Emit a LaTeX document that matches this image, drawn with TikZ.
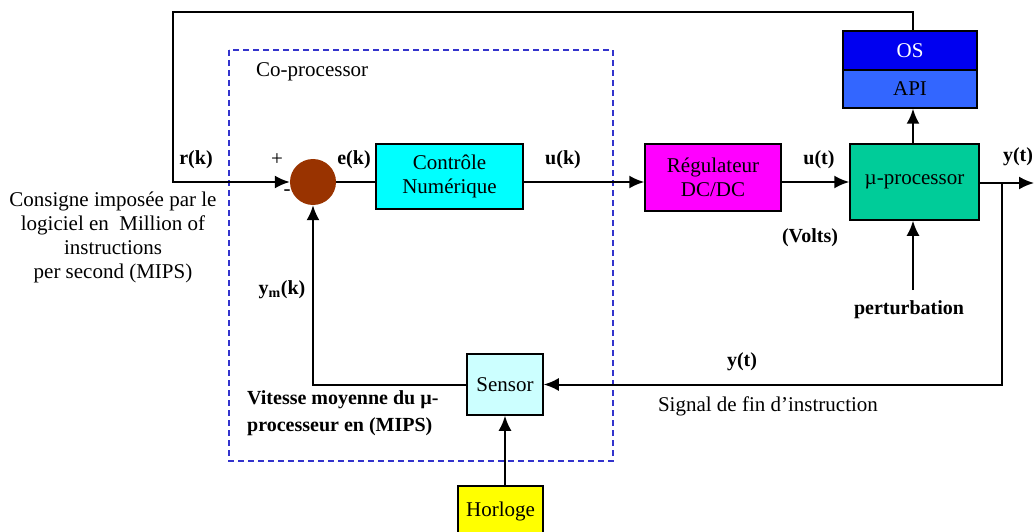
\documentclass[tikz,border=0pt]{standalone}
\usepackage{fontspec}
\setmainfont{Liberation Serif}
\usetikzlibrary{arrows.meta,positioning,calc}
\definecolor{Ink}{HTML}{000000}
\definecolor{CtrlCyan}{HTML}{00FFFF}
\definecolor{RegMagenta}{HTML}{FF00FF}
\definecolor{ProcGreen}{HTML}{00CC99}
\definecolor{OsBlue}{HTML}{0000F0}
\definecolor{ApiBlue}{HTML}{3366FF}
\definecolor{SensorSoft}{HTML}{CCFFFF}
\definecolor{ClockYellow}{HTML}{FFFF00}
\definecolor{SumBrown}{HTML}{993300}
\definecolor{CoBlue}{HTML}{3333CC}
\newcommand{\diagfont}{\fontsize{21}{24}\selectfont}
\newcommand{\sigfont}{\fontsize{20}{27}\selectfont\bfseries}
\tikzset{
  blk/.style={draw=Ink,line width=1.5pt,inner sep=0pt,align=center,text=Ink,font=\diagfont},
  blkcyan/.style={blk,fill=CtrlCyan},
  blkmag/.style={blk,fill=RegMagenta},
  blkgreen/.style={blk,fill=ProcGreen},
  blkos/.style={blk,fill=OsBlue,text=white},
  blkapi/.style={blk,fill=ApiBlue},
  blksensor/.style={blk,fill=SensorSoft},
  blkyellow/.style={blk,fill=ClockYellow},
  sumnode/.style={circle,fill=SumBrown,minimum size=46pt,inner sep=0pt},
  sig/.style={font=\sigfont,inner sep=1pt},
  txt/.style={font=\diagfont,inner sep=1pt},
  arrow/.style={-{Latex[length=15pt,width=13pt]},line width=2pt,draw=Ink},
  coproc/.style={draw=CoBlue,line width=1.6pt,dash pattern=on 6pt off 4pt}
}
\begin{document}
\begin{tikzpicture}[x=1pt,y=-1pt]
  \useasboundingbox (0,0) rectangle (1036,532);
  % co-processor frame
  \draw[coproc] (229,50) rectangle (613,461);
  \node[txt,anchor=west] (cop) at (255,72) {Co-processor};
  % blocks
  \node[sumnode] (sum) at (313,182) {};
  \node[blkcyan,minimum width=147pt,minimum height=65pt] (ctrl) at (449.5,176.5) {Contrôle\\Numérique};
  \node[blkmag,minimum width=136pt,minimum height=67pt] (reg) at (713,177.5) {Régulateur\\DC/DC};
  \node[blkgreen,minimum width=129pt,minimum height=76pt] (proc) at (914.5,182) {µ-processor};
  \node[blkapi,minimum width=134pt,minimum height=38pt] (api) at (910,89) {API};
  \node[blkos,minimum width=134pt,minimum height=39pt] (os) at (910,50.5) {OS};
  \node[blksensor,minimum width=76pt,minimum height=61pt] (sens) at (505,384.5) {Sensor};
  \node[blkyellow,minimum width=85pt,minimum height=50pt] (clk) at (500.5,511) {Horloge};
  \coordinate (corner) at (173,12);
  \coordinate (yend) at (1034,183);
  \coordinate (tap) at (1002,183);
  \coordinate (pert) at (913,290);
  % connectors
  \draw[arrow] (os.north -| pert) |- (corner) |- (sum.west);
  \draw[line width=2pt] (sum.east) -- (sum.east -| ctrl.west);
  \draw[arrow] (ctrl.east |- sum) -- (reg.west |- sum);
  \draw[arrow] (reg.east |- sum) -- (proc.west |- sum);
  \draw[arrow] (proc.east |- yend) -- (yend);
  \draw[arrow] (tap) |- (sens.east);
  \draw[arrow] (sens.west) -| (sum.south);
  \draw[arrow] (sens.south |- clk.north) -- (sens.south);
  \draw[arrow] (proc.north -| pert) -- (api.south -| pert);
  \draw[arrow] (pert) -- (proc.south -| pert);
  % labels
  \node[sig] (rk) at (196,160) {r(k)};
  \node[txt] (plus) at (277,160) {+};
  \node[txt] (minus) at (287,193) {-};
  \node[sig] (ek) at (354,160) {e(k)};
  \node[sig] (uk) at (563,160) {u(k)};
  \node[sig] (ut) at (819,160) {u(t)};
  \node[sig] (volts) at (810,238) {(Volts)};
  \node[sig] (yt) at (1018,157) {y(t)};
  \node[sig] (ytfb) at (742,362) {y(t)};
  \node[txt] (fin) at (768,406) {Signal de fin d’instruction};
  \node[sig] (ymk) at (282,290) {y\textsubscript{m}(k)};
  \node[sig] (pertlbl) at (909,310) {perturbation};
  \node[sig,align=left,anchor=west] (vit) at (246,413) {Vitesse moyenne du µ-\\processeur en (MIPS)};
  \node[txt,align=center] (consigne) at (113,237) {Consigne imposée par le\\logiciel en\ \ Million of\\instructions\\per second (MIPS)};
\end{tikzpicture}
\end{document}
